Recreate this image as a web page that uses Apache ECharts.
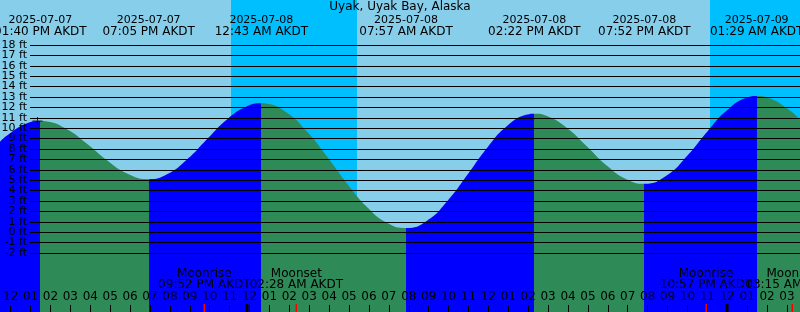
<!DOCTYPE html>
<html><head><meta charset="utf-8">
<script src="https://cdn.jsdelivr.net/npm/echarts@6/dist/echarts.min.js"></script>
<style>html,body{margin:0;padding:0;background:#87CEEB}#c{width:800px;height:312px}</style>
</head><body><div id="c"></div>
<script>
const titleText = 'Uyak, Uyak Bay, Alaska';
// x values are hours counted from 2025-07-07 12:00 PM AKDT
const tideHours = [-0.35, 0, 1, 1.667, 2, 3, 4, 5, 6, 7.083, 8, 9, 10, 11, 12, 12.717, 13, 14, 15, 16, 17, 18, 19, 19.95, 21, 22, 23, 24, 25, 26, 26.367, 27, 28, 29, 30, 31, 31.867, 33, 34, 35, 36, 37, 37.483, 38, 39, 39.65];
const tideFeet  = [8.7, 9.3, 10.47, 10.7, 10.65, 9.9, 8.5, 6.91, 5.64, 5.1, 5.57, 7.0, 8.95, 10.85, 12.11, 12.4, 12.36, 11.49, 9.68, 7.27, 4.69, 2.43, 0.91, 0.4, 1.11, 2.95, 5.47, 8.1, 10.21, 11.31, 11.4, 11.18, 10.03, 8.25, 6.39, 5.06, 4.65, 5.47, 7.32, 9.64, 11.72, 12.95, 13.1, 12.96, 11.91, 10.8];

const extremeHours = [1.667, 7.083, 12.717, 19.95, 26.367, 31.867, 37.483];
const extremeKinds = ['high', 'low', 'high', 'low', 'high', 'low', 'high'];
const extremeDates = ['2025-07-07', '2025-07-07', '2025-07-08', '2025-07-08', '2025-07-08', '2025-07-08', '2025-07-09'];
const extremeTimes = ['01:40 PM AKDT', '07:05 PM AKDT', '12:43 AM AKDT', '07:57 AM AKDT', '02:22 PM AKDT', '07:52 PM AKDT', '01:29 AM AKDT'];

const nightStart = [11.2, 35.15];
const nightEnd = [17.5, 41.53];

const moonHours = [9.867, 14.467, 34.95, 39.25];
const moonEvents = ['Moonrise', 'Moonset', 'Moonrise', 'Moonset'];
const moonTimes = ['09:52 PM AKDT', '02:28 AM AKDT', '10:57 PM AKDT', '03:15 AM AKDT'];

const midnightHours = [12, 36];

const hourLabels = ['12','01','02','03','04','05','06','07','08','09','10','11',
                    '12','01','02','03','04','05','06','07','08','09','10','11',
                    '12','01','02','03','04','05','06','07','08','09','10','11',
                    '12','01','02','03'];
const feetTicks = [-2, -1, 0, 1, 2, 3, 4, 5, 6, 7, 8, 9, 10, 11, 12, 13, 14, 15, 16, 17, 18];
const feetTickLabels = ['-2 ft','-1 ft','0 ft','1 ft','2 ft','3 ft','4 ft','5 ft','6 ft','7 ft','8 ft','9 ft',
                        '10 ft','11 ft','12 ft','13 ft','14 ft','15 ft','16 ft','17 ft','18 ft'];

const nowHour = 1.525, nowFeet = 10.7;

const FONT = '"DejaVu Sans", sans-serif';
const FLOOD = '#0000FF', EBB = '#2E8B57', NIGHT = '#00BFFF', DAY = '#87CEEB';

const pieces = [];
extremeHours.forEach((h, i) => {
  const color = extremeKinds[i] === 'high' ? FLOOD : EBB;
  if (i === 0) pieces.push({ lt: h, color });
  else pieces.push({ gte: extremeHours[i - 1], lt: h, color });
});
pieces.push({ gte: extremeHours[extremeHours.length - 1], color: extremeKinds[extremeKinds.length - 1] === 'high' ? EBB : FLOOD });

const chart = echarts.init(document.getElementById('c'), null, { renderer: 'canvas' });
chart.setOption({
  animation: false,
  backgroundColor: DAY,
  title: { text: titleText, left: 'center', top: 1, padding: 0,
    textStyle: { fontSize: 12, fontWeight: 'normal', fontFamily: FONT, color: '#000' } },
  grid: [
    { left: 0, right: 0, top: 0, bottom: 0 },
    { left: 30, right: 0, top: 45, bottom: 59 },
    { left: 7, right: 13, top: 0, bottom: 0 }
  ],
  xAxis: [
    { gridIndex: 0, type: 'value', min: -0.35, max: 39.65, show: false },
    { gridIndex: 1, type: 'value', min: 0, max: 1, show: false },
    { gridIndex: 2, type: 'value', min: 0, max: 39, interval: 1, position: 'bottom', z: 6,
      axisLine: { show: false }, splitLine: { show: false },
      axisTick: { show: true, inside: true, length: 7, lineStyle: { color: '#000', width: 1 } },
      axisLabel: { show: true, inside: true, margin: 9, interval: 0, showMinLabel: true, showMaxLabel: true,
        fontSize: 12, fontFamily: FONT, color: '#000', formatter: v => hourLabels[Math.round(v)] } }
  ],
  yAxis: [
    { gridIndex: 0, type: 'value', min: -7.67, max: 22.33, show: false },
    { gridIndex: 1, type: 'value', min: feetTicks[0], max: feetTicks[feetTicks.length - 1], interval: 1, z: 5,
      axisLine: { show: false }, axisTick: { show: false }, axisLabel: { show: false },
      splitLine: { show: true, showMinLine: true, showMaxLine: true, lineStyle: { color: '#000', width: 1 } } },
    { gridIndex: 2, type: 'value', min: 0, max: 1, show: false }
  ],
  visualMap: { show: false, type: 'piecewise', dimension: 0, seriesIndex: 1, pieces },
  series: [
    { type: 'custom', xAxisIndex: 0, yAxisIndex: 0, z: 1, clip: true, silent: true,
      data: nightStart.map((s, i) => [s, nightEnd[i]]),
      renderItem: (params, api) => {
        const x0 = api.coord([api.value(0), 0])[0];
        const x1 = api.coord([api.value(1), 0])[0];
        const cs = params.coordSys;
        return { type: 'rect', shape: { x: x0, y: cs.y, width: x1 - x0, height: cs.height }, style: { fill: NIGHT } };
      } },
    { type: 'line', xAxisIndex: 0, yAxisIndex: 0, z: 2, smooth: 0.5, showSymbol: false, symbol: 'none',
      data: tideHours.map((h, i) => [h, tideFeet[i]]),
      lineStyle: { width: 0, opacity: 0 },
      areaStyle: { opacity: 1, origin: 'start' } },
    { type: 'scatter', xAxisIndex: 0, yAxisIndex: 0, z: 4, silent: true,
      data: [[nowHour, nowFeet]],
      symbol: 'path://M0,4L10,4L10,5L0,5Z M4.5,0L5.5,0L5.5,9L4.5,9Z', symbolSize: [10, 8],
      itemStyle: { color: '#000' } },
    { type: 'custom', xAxisIndex: 1, yAxisIndex: 1, z: 10, silent: true,
      data: feetTicks.map((v, i) => [0, v, i]),
      renderItem: (params, api) => {
        const y = api.coord([0, api.value(1)])[1];
        const i = api.value(2);
        return { type: 'text', style: { text: feetTickLabels[i], x: params.coordSys.x - 3, y: y,
          align: 'right', verticalAlign: 'middle', font: '11px ' + FONT, fill: '#000' } };
      } },
    { type: 'custom', xAxisIndex: 0, yAxisIndex: 0, z: 10, silent: true,
      data: extremeHours.map((h, i) => [h, i]),
      renderItem: (params, api) => {
        const i = api.value(1);
        const x = api.coord([api.value(0), 0])[0];
        return { type: 'group', children: [
          { type: 'text', style: { text: extremeDates[i], x, y: 20, align: 'center', verticalAlign: 'middle', font: '11px ' + FONT, fill: '#000' } },
          { type: 'text', style: { text: extremeTimes[i], x, y: 32, align: 'center', verticalAlign: 'middle', font: '12px ' + FONT, fill: '#000' } }
        ] };
      } },
    { type: 'custom', xAxisIndex: 0, yAxisIndex: 0, z: 10, silent: true,
      data: moonHours.map((h, i) => [h, i]),
      renderItem: (params, api) => {
        const i = api.value(1);
        const x = api.coord([api.value(0), 0])[0];
        const bottom = params.coordSys.y + params.coordSys.height;
        return { type: 'group', children: [
          { type: 'text', style: { text: moonEvents[i], x, y: 274, align: 'center', verticalAlign: 'middle', font: '12px ' + FONT, fill: '#000' } },
          { type: 'text', style: { text: moonTimes[i], x, y: 285, align: 'center', verticalAlign: 'middle', font: '12px ' + FONT, fill: '#000' } },
          { type: 'rect', shape: { x: Math.round(x) - 0.5, y: bottom - 8, width: 1.5, height: 8 }, style: { fill: '#FF0000' } }
        ] };
      } },
    { type: 'custom', xAxisIndex: 0, yAxisIndex: 0, z: 11, silent: true,
      data: midnightHours.map(h => [h, 0]),
      renderItem: (params, api) => {
        const x = api.coord([api.value(0), 0])[0];
        const bottom = params.coordSys.y + params.coordSys.height;
        return { type: 'rect', shape: { x: Math.round(x) - 1.5, y: bottom - 8, width: 3, height: 8 }, style: { fill: '#000' } };
      } }
  ]
});
</script></body></html>
